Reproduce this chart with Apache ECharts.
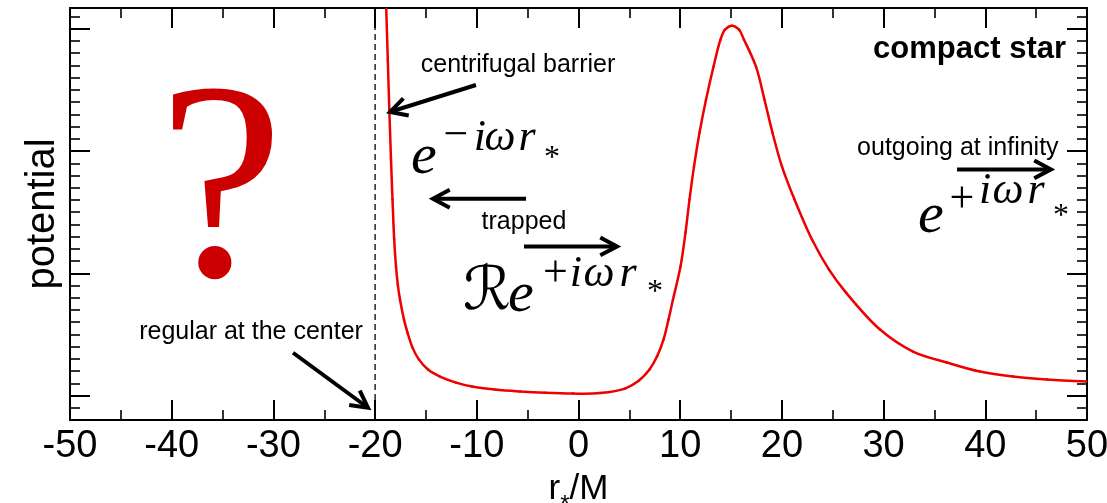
<!DOCTYPE html>
<html>
<head>
<meta charset="utf-8">
<script src="https://cdn.jsdelivr.net/npm/echarts@6/dist/echarts.min.js"></script>
<style>
  html, body { margin: 0; padding: 0; background: #fff; }
  #chart { width: 1107px; height: 503px; }
</style>
</head>
<body>
<div id="chart"></div>
<script>
// Tortoise coordinate r_*/M and the effective potential of a compact star
const rStar = [
  -19.027, -18.909, -18.751, -18.594, -18.437, -18.289, -18.122, -17.945, -17.768, -17.552,
  -17.158, -16.814, -16.323, -15.683, -14.799, -13.619, -12.045, -10.472, -8.211, -5.752,
  -3.294, -0.541, 2.114, 4.572, 5.949, 6.981, 7.719, 8.358, 8.849, 9.292,
  10.029, 10.521, 10.914, 11.357, 11.898, 12.537, 13.274, 13.962, 14.405, 15.093,
  15.781, 16.273, 17.453, 18.289, 19.075, 20.010, 21.239, 22.959, 24.631, 26.303,
  29.646, 32.891, 36.234, 39.478, 42.723, 46.066, 50.0
];
const potential = [
  3.565, 3.172, 2.747, 2.314, 1.930, 1.603, 1.276, 1.055, 0.908, 0.785,
  0.621, 0.515, 0.392, 0.294, 0.213, 0.155, 0.106, 0.074, 0.049, 0.033,
  0.022, 0.016, 0.020, 0.057, 0.123, 0.213, 0.319, 0.458, 0.621, 0.785,
  1.055, 1.333, 1.603, 1.872, 2.150, 2.420, 2.690, 2.911, 2.993, 3.025,
  2.993, 2.911, 2.690, 2.420, 2.150, 1.872, 1.603, 1.276, 1.030, 0.842,
  0.540, 0.360, 0.270, 0.196, 0.155, 0.131, 0.114
];

// Stellar centre (dashed marker)
const centerR = -20;

// Axis ticks
const xMin = -50, xMax = 50, xStep = 10;
const yMin = -0.2, yMax = 3.17;
const yMajorTicks = [0, 1, 2, 3];
const yMinorTicks = [-0.1, 0.1, 0.2, 0.3, 0.4, 0.5, 0.6, 0.7, 0.8, 0.9,
  1.1, 1.2, 1.3, 1.4, 1.5, 1.6, 1.7, 1.8, 1.9,
  2.1, 2.2, 2.3, 2.4, 2.5, 2.6, 2.7, 2.8, 2.9, 3.1];

// Arrows: [fromR, fromV, toR, toV]
const arrows = [
  [-10.08, 2.54, -18.53, 2.32],
  [-28.07, 0.35, -20.7, -0.1],
  [-5.16, 1.61, -14.31, 1.61],
  [-5.36, 1.22, 3.79, 1.22],
  [37.22, 1.85, 46.46, 1.85]
];

const SANS = "'Liberation Sans', Arial, Helvetica, sans-serif";
const SERIF = "'Liberation Serif', 'Times New Roman', serif";
const SCRIPT = "'DejaVu Serif', 'DejaVu Sans', serif";

// Text annotations placed in data coordinates
const notes = [
  { text: 'centrifugal barrier', at: [-5.95, 2.706], size: 25, align: 'center', family: SANS },
  { text: 'regular at the center', at: [-32.2, 0.515], size: 25, align: 'center', family: SANS },
  { text: 'trapped', at: [-5.36, 1.422], size: 25, align: 'center', family: SANS },
  { text: 'outgoing at infinity', at: [37.3, 2.02], size: 25, align: 'center', family: SANS },
  { text: 'compact star', at: [38.45, 2.83], size: 31, align: 'center', family: SANS, weight: 'bold' },
  { text: '?', at: [-35.15, 1.59], size: 282, align: 'center', family: SERIF, color: '#cc0000' },

  // e^{-i w r_*}
  { text: 'e', at: [-16.47, 1.944], size: 58, align: 'left', family: SERIF, italic: true },
  { text: '\u2212', at: [-12.05, 2.119], size: 44, align: 'center', family: SERIF },
  { text: 'i', at: [-9.69, 2.10], size: 44, align: 'center', family: SERIF, italic: true },
  { text: '\u03c9', at: [-7.72, 2.10], size: 44, align: 'center', family: SERIF, italic: true },
  { text: 'r', at: [-5.05, 2.10], size: 44, align: 'center', family: SERIF, italic: true },
  { text: '*', at: [-2.61, 1.938], size: 32, align: 'center', family: SERIF },

  // R e^{+i w r_*}
  { text: '\u211b', at: [-11.36, 0.834], size: 60, align: 'left', family: SCRIPT, italic: true },
  { text: 'e', at: [-6.93, 0.815], size: 58, align: 'left', family: SERIF, italic: true },
  { text: '+', at: [-2.26, 0.991], size: 44, align: 'center', family: SERIF },
  { text: 'i', at: [-0.25, 0.988], size: 44, align: 'center', family: SERIF, italic: true },
  { text: '\u03c9', at: [2.02, 0.988], size: 44, align: 'center', family: SERIF, italic: true },
  { text: 'r', at: [4.88, 0.988], size: 44, align: 'center', family: SERIF, italic: true },
  { text: '*', at: [7.52, 0.842], size: 32, align: 'center', family: SERIF },

  // e^{+i w r_*}
  { text: 'e', at: [33.38, 1.462], size: 58, align: 'left', family: SERIF, italic: true },
  { text: '+', at: [37.71, 1.596], size: 44, align: 'center', family: SERIF },
  { text: 'i', at: [39.97, 1.666], size: 44, align: 'center', family: SERIF, italic: true },
  { text: '\u03c9', at: [42.23, 1.666], size: 44, align: 'center', family: SERIF, italic: true },
  { text: 'r', at: [45.0, 1.666], size: 44, align: 'center', family: SERIF, italic: true },
  { text: '*', at: [47.44, 1.464], size: 32, align: 'center', family: SERIF }
];

const chart = echarts.init(document.getElementById('chart'), null, { renderer: 'canvas' });

function yAxisCfg(position, ticks, len, width, showLine) {
  return {
    type: 'value', position: position, min: yMin, max: yMax,
    axisLine: { show: showLine, onZero: false, lineStyle: { color: '#000', width: 2 } },
    axisTick: { show: true, inside: true, length: len, customValues: ticks,
      lineStyle: { color: '#000', width: width } },
    axisLabel: { show: false },
    splitLine: { show: false }
  };
}

function xAxisCfg(position, labels) {
  return {
    type: 'value', position: position, min: xMin, max: xMax, interval: xStep,
    axisLine: { show: true, onZero: false, lineStyle: { color: '#000', width: 2 } },
    axisTick: { show: true, inside: true, length: 20, lineStyle: { color: '#000', width: 2 } },
    minorTick: { show: true, splitNumber: 2, length: 10, lineStyle: { color: '#000', width: 1.6 } },
    axisLabel: labels ? {
      show: true, color: '#000', fontSize: 38, fontFamily: SANS, margin: 8,
      showMinLabel: true, showMaxLabel: true
    } : { show: false },
    splitLine: { show: false }
  };
}

// Smooth curve through the potential samples (centripetal Catmull-Rom, drawn
// segment by segment in pixel space from the axis scales)
const curvePoints = rStar.map((r, i) => [r, potential[i]]);

function renderCurveSegment(params, api) {
  const i = params.dataIndex;
  const n = curvePoints.length;
  if (i >= n - 1) return null;
  const P = [Math.max(i - 1, 0), i, i + 1, Math.min(i + 2, n - 1)]
    .map(k => api.coord(curvePoints[k]));
  const dist = (a, b) => Math.sqrt(Math.hypot(b[0] - a[0], b[1] - a[1])) || 1e-6;
  const d1 = dist(P[0], P[1]), d2 = dist(P[1], P[2]), d3 = dist(P[2], P[3]);
  const c1 = [0, 1].map(j => (d1 * d1 * P[2][j] - d2 * d2 * P[0][j] +
    (2 * d1 * d1 + 3 * d1 * d2 + d2 * d2) * P[1][j]) / (3 * d1 * (d1 + d2)));
  const c2 = [0, 1].map(j => (d3 * d3 * P[1][j] - d2 * d2 * P[3][j] +
    (2 * d3 * d3 + 3 * d3 * d2 + d2 * d2) * P[2][j]) / (3 * d3 * (d3 + d2)));
  return {
    type: 'bezierCurve',
    shape: {
      x1: P[1][0], y1: P[1][1], x2: P[2][0], y2: P[2][1],
      cpx1: c1[0], cpy1: c1[1], cpx2: c2[0], cpy2: c2[1]
    },
    style: { stroke: '#ee0000', lineWidth: 2.5, fill: null, lineCap: 'round' }
  };
}

const option = {
  animation: false,
  backgroundColor: '#fff',
  grid: { left: 70, right: 20, top: 8, bottom: 83, containLabel: false, outerBoundsMode: 'none' },
  xAxis: [
    Object.assign(xAxisCfg('bottom', true), {
      name: '{a|r}{s|*}{a|/M}', nameLocation: 'middle', nameGap: 52,
      nameTextStyle: {
        rich: {
          a: { fontSize: 35, fontFamily: SANS, color: '#000' },
          s: { fontSize: 24, fontFamily: SANS, color: '#000', lineHeight: 35,
               verticalAlign: 'top', padding: [21, 0, 0, 0] }
        }
      }
    }),
    xAxisCfg('top', false)
  ],
  yAxis: [
    Object.assign(yAxisCfg('left', yMajorTicks, 20, 2, true), {
      name: 'potential', nameLocation: 'middle', nameGap: 7, nameRotate: 90,
      nameTextStyle: { fontSize: 40, fontFamily: SANS, color: '#000' }
    }),
    yAxisCfg('left', yMinorTicks, 10, 1.6, false),
    yAxisCfg('right', yMajorTicks, 20, 2, true),
    yAxisCfg('right', yMinorTicks, 10, 1.6, false)
  ],
  series: [
    {
      type: 'line', xAxisIndex: 0, yAxisIndex: 0,
      data: [[centerR, yMin], [centerR, yMax]],
      symbol: 'none', silent: true,
      lineStyle: { color: '#000', width: 1.3, type: [6, 4] }
    },
    {
      type: 'custom', xAxisIndex: 0, yAxisIndex: 0, clip: true, silent: true,
      data: curvePoints,
      encode: { x: 0, y: 1 },
      renderItem: renderCurveSegment
    },
    {
      type: 'custom', xAxisIndex: 0, yAxisIndex: 0, clip: false, silent: true,
      data: arrows,
      encode: { x: [0, 2], y: [1, 3] },
      renderItem: function (params, api) {
        const a = api.coord([api.value(0), api.value(1)]);
        const b = api.coord([api.value(2), api.value(3)]);
        const ang = Math.atan2(b[1] - a[1], b[0] - a[0]);
        const L = 19, w = 0.49;
        const h1 = [b[0] - L * Math.cos(ang - w), b[1] - L * Math.sin(ang - w)];
        const h2 = [b[0] - L * Math.cos(ang + w), b[1] - L * Math.sin(ang + w)];
        const e = [b[0] - 3 * Math.cos(ang), b[1] - 3 * Math.sin(ang)];
        return {
          type: 'group',
          children: [
            { type: 'line', shape: { x1: a[0], y1: a[1], x2: e[0], y2: e[1] },
              style: { stroke: '#000', lineWidth: 4 } },
            { type: 'polyline', shape: { points: [h1, b, h2] },
              style: { stroke: '#000', lineWidth: 4, fill: null, lineJoin: 'miter' } }
          ]
        };
      }
    }
  ]
};

chart.setOption(option);

// Annotation texts converted from data coordinates to pixels
const graphics = notes.map(function (n) {
  const p = chart.convertToPixel({ gridIndex: 0 }, n.at);
  const font = (n.italic ? 'italic ' : '') + (n.weight ? n.weight + ' ' : '') +
    n.size + 'px ' + n.family;
  return {
    type: 'text', x: p[0], y: p[1], silent: true, z: 10,
    style: {
      text: n.text, font: font, fill: n.color || '#000',
      align: n.align, verticalAlign: 'middle'
    }
  };
});
chart.setOption({ graphic: graphics });
</script>
</body>
</html>
